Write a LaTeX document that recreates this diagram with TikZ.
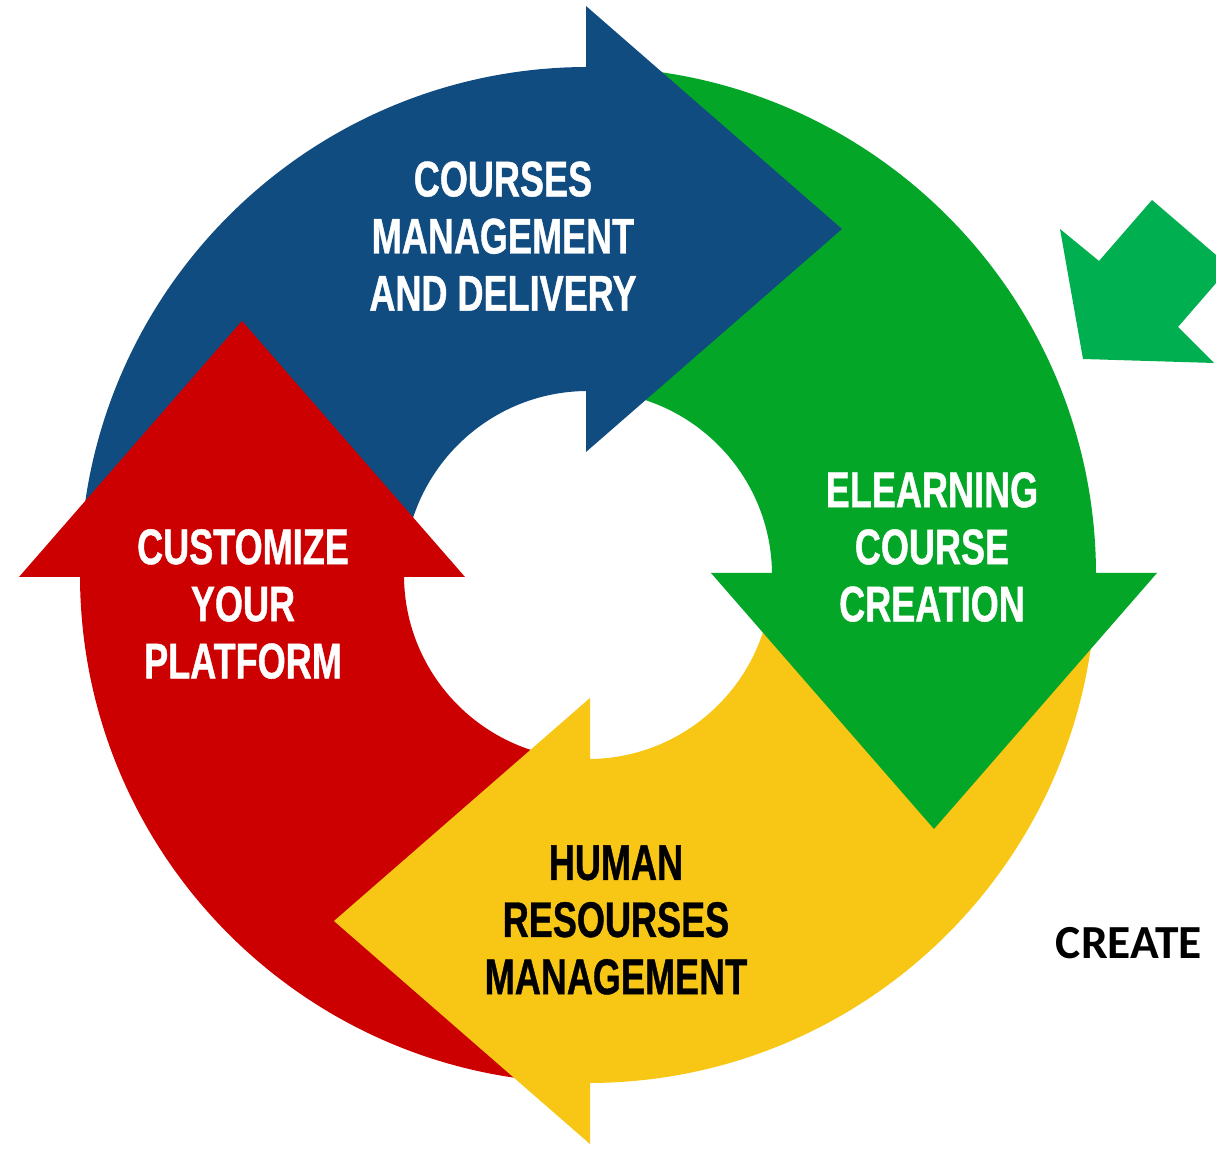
\documentclass[tikz,border=0pt]{standalone}
\usepackage{fontspec}
\usepackage{tikz}
\usetikzlibrary{positioning}

\newfontfamily\cyclefont[FakeStretch=0.72, BoldFeatures={FakeBold=0.8}]{Liberation Sans}
\newfontfamily\notefont{Carlito}

\definecolor{cycleblue}{HTML}{114C81}
\definecolor{cyclegreen}{HTML}{04A628}
\definecolor{cycleyellow}{HTML}{F8C614}
\definecolor{cyclered}{HTML}{CC0000}
\definecolor{notegreen}{HTML}{00AF50}

\begin{document}
\begin{tikzpicture}[x=0.2mm, y=0.2mm]
	% Define style
	\tikzset{
		cyclelabel/.style={align=center, inner sep=0pt, font=\cyclefont\bfseries\fontsize{28.5}{32.5}\selectfont},
		notelabel/.style={inner sep=0pt, font=\notefont\bfseries\fontsize{27}{32}\selectfont}
	}
	\useasboundingbox (-588,-573) rectangle (628,575);
	\coordinate (c) at (0,0);

	% Define ring
	\foreach \ang/\col in {0/cycleblue, -90/cyclegreen, -180/cycleyellow, -270/cyclered}
		\fill[\col, rotate around={\ang:(c)}] (90:508) arc[start angle=90, end angle=180, radius=508]
			-- (180:184) arc[start angle=180, end angle=90, radius=184] -- cycle;

	% Define heads (base pushed back a little to hide the seam)
	\foreach \ang/\col in {0/cycleblue, -90/cyclegreen, -180/cycleyellow, -270/cyclered}
		\fill[\col, rotate around={\ang:(c)}] (-2,123) -- (254,346) -- (-2,569) -- cycle;

	% Define labels
	\node (courses) [cyclelabel, text=white] at (-85,339) {COURSES\\MANAGEMENT\\AND DELIVERY};
	\node (elearning) [cyclelabel, text=white] at (344,28) {ELEARNING\\COURSE\\CREATION};
	\node (human) [cyclelabel, text=black] at (28,-345) {HUMAN\\RESOURSES\\MANAGEMENT};
	\node (customize) [cyclelabel, text=white] at (-345,-29) {CUSTOMIZE\\YOUR\\PLATFORM};

	% Side arrow and note
	\fill[notegreen] (495,216) -- (472,346) -- (511,314) -- (564,375) -- (642,308) -- (590,248) -- (626,212) -- cycle;
	\node (create) [notelabel] at (541,-368) {CREATE};
\end{tikzpicture}
\end{document}
